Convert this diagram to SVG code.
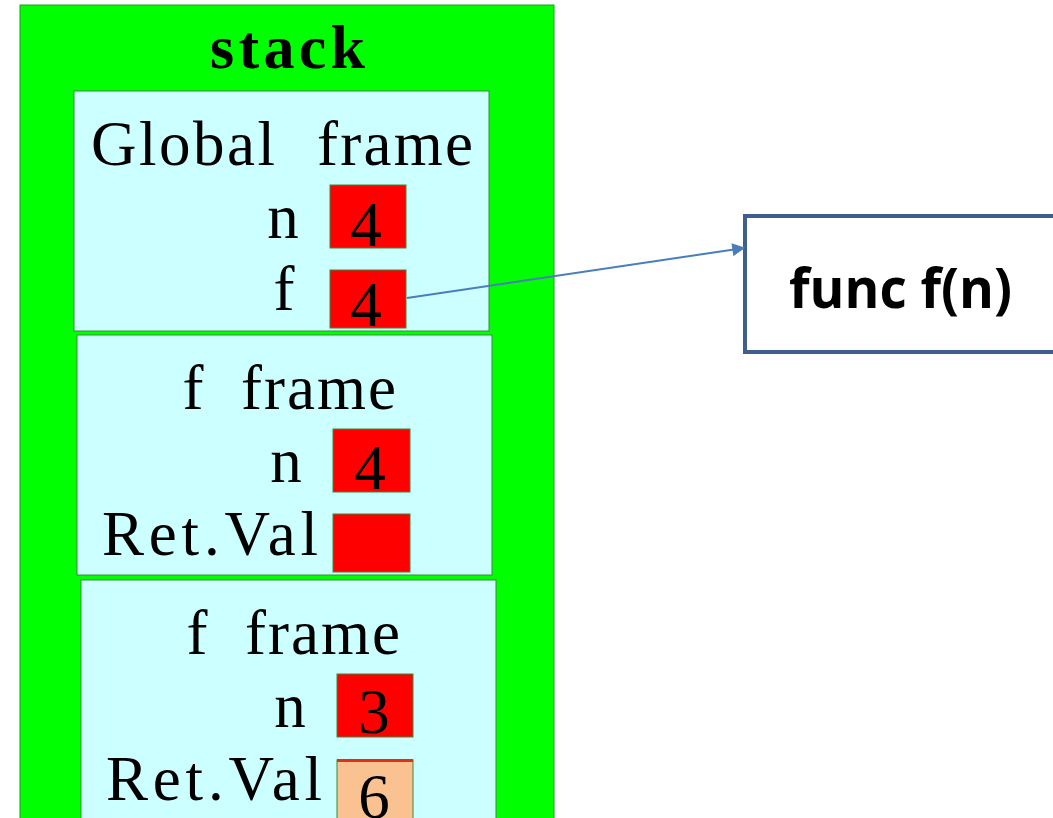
<svg xmlns="http://www.w3.org/2000/svg" width="1053" height="818" viewBox="0 0 1053 818">
  <defs>
    <style>
      .stack { fill: #00FF00; stroke: #1E9A1E; stroke-width: 1; }
      .frame { fill: #CCFFFF; stroke: #3A8A3A; stroke-width: 1; }
      .cell { fill: #FF0000; stroke: #3A8A3A; stroke-width: 1; }
      .cell-done { fill: #FAC291; stroke: #3A8A3A; stroke-width: 1; }
      .t { font-family: "Liberation Serif", "DejaVu Serif", serif; font-size: 63px; fill: #000; }
      .c { text-anchor: middle; }
      .title { font-family: "Liberation Serif", "DejaVu Serif", serif; font-size: 62px; font-weight: bold; fill: #000; }
      .func { fill: #FFFFFF; stroke: #3F5F8F; stroke-width: 4; }
      .func-label { font-family: "Open Sans", "Liberation Sans", sans-serif; font-size: 55px; font-weight: bold; fill: #000; }
      .link { fill: none; stroke: #4A7EBB; stroke-width: 2; }
    </style>
    <marker id="arrow" viewBox="0 0 10 10" refX="9" refY="5" markerWidth="15" markerHeight="13" markerUnits="userSpaceOnUse" orient="auto">
      <path d="M0,0 L10,5 L0,10 z" fill="#4A7EBB"/>
    </marker>
  </defs>

  <!-- the call stack -->
  <g id="stack">
    <rect class="stack" x="20" y="5" width="534" height="830"/>
    <text class="title" x="210" y="68" textLength="155" lengthAdjust="spacing">stack</text>
  </g>

  <!-- global frame -->
  <g id="global-frame">
    <rect class="frame" x="74" y="91" width="415" height="240"/>
    <text class="t" x="91" y="165" textLength="184" lengthAdjust="spacing">Global</text>
    <text class="t" x="317" y="165" textLength="156" lengthAdjust="spacing">frame</text>
    <text class="t c" x="283" y="238">n</text>
    <rect class="cell" x="330" y="185" width="76" height="63"/>
    <text class="t c" x="366" y="246">4</text>
    <text class="t c" x="284" y="310">f</text>
    <rect class="cell" x="330" y="270" width="76" height="58"/>
    <text class="t c" x="366" y="326">4</text>
  </g>

  <!-- first f frame -->
  <g id="f-frame-1">
    <rect class="frame" x="77" y="335" width="415" height="240"/>
    <text class="t c" x="193" y="409">f</text>
    <text class="t" x="241" y="409" textLength="155" lengthAdjust="spacing">frame</text>
    <text class="t c" x="286" y="482">n</text>
    <rect class="cell" x="333" y="429" width="77" height="63"/>
    <text class="t c" x="370" y="489">4</text>
    <text class="t" x="102" y="555" textLength="216" lengthAdjust="spacing">Ret.Val</text>
    <rect class="cell" x="333" y="514" width="77" height="58"/>
  </g>

  <!-- second f frame -->
  <g id="f-frame-2">
    <rect class="frame" x="81" y="580" width="415" height="250"/>
    <text class="t c" x="197" y="654">f</text>
    <text class="t" x="245" y="654" textLength="155" lengthAdjust="spacing">frame</text>
    <text class="t c" x="290" y="727">n</text>
    <rect class="cell" x="337" y="674" width="76" height="63"/>
    <text class="t c" x="374" y="733">3</text>
    <text class="t" x="106" y="800" textLength="216" lengthAdjust="spacing">Ret.Val</text>
    <rect class="cell-done" x="337" y="760" width="76" height="70"/>
    <rect x="337" y="759" width="76" height="3" fill="#E03010"/>
    <text class="t c" x="374" y="818">6</text>
  </g>

  <!-- function object -->
  <g id="func-f">
    <rect class="func" x="745" y="216" width="320" height="136"/>
    <text class="func-label" x="789" y="308" textLength="223" lengthAdjust="spacingAndGlyphs">func f(n)</text>
  </g>

  <!-- references -->
  <g id="connectors">
    <line class="link" x1="407" y1="298" x2="744" y2="248" marker-end="url(#arrow)"/>
  </g>
</svg>
